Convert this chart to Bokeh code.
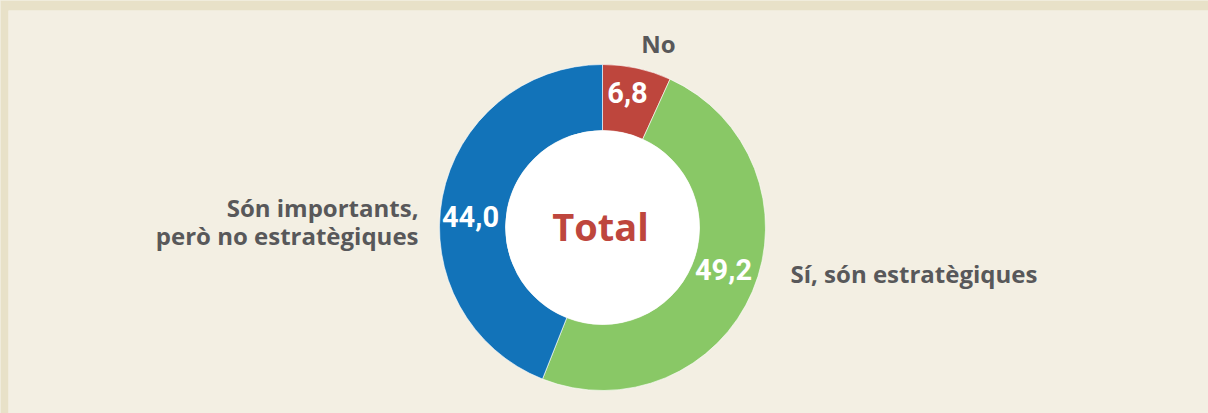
import math
from bokeh.plotting import figure
from bokeh.models import Range1d, ColumnDataSource
from bokeh.core.properties import value
from bokeh.embed import file_html
from bokeh.resources import INLINE

# ---- data ----
categories = ["No", "Sí, són estratègiques", "Són importants,\nperò no estratègiques"]
values = [6.8, 49.2, 44.0]
value_labels = ["6,8", "49,2", "44,0"]
colors = ["#be463d", "#89c866", "#1273b9"]
center_label = "Total"

# ---- geometry (screen px; y is negated) ----
CX, CY = 602, -227
R_OUT, R_IN = 163, 97

total = sum(values)
starts, ends = [], []
a = math.pi / 2
for v in values:
    starts.append(a)
    a = a - v / total * 2 * math.pi
    ends.append(a)

p = figure(width=1208, height=413, output_backend="svg", toolbar_location=None,
           x_range=Range1d(8, 1208), y_range=Range1d(-413, -10),
           min_border_left=8, min_border_right=0, min_border_bottom=0, min_border_top=10)
p.axis.visible = False
p.grid.visible = False
p.outline_line_color = None
p.background_fill_color = "#f3efe3"
p.border_fill_color = "#e8e1c8"

src = ColumnDataSource(dict(start=starts, end=ends, color=colors))
p.annular_wedge(x=CX, y=CY, inner_radius=R_IN, outer_radius=R_OUT,
                start_angle="start", end_angle="end", direction="clock",
                fill_color="color", line_color="white", line_width=0.6, source=src)
p.scatter(x=[CX], y=[CY], size=2 * R_IN, marker="circle",
          fill_color="white", line_color=None)

# value labels
vx = [627, 723, 470]
vy = [-92, -269, -216]
p.text(x=vx, y=vy, text=value_labels, text_color="white",
       text_font=value("Roboto"), text_font_style="bold", text_font_size="29px",
       text_align="center", text_baseline="alphabetic")

# category labels
gray = "#58585a"
p.text(x=[658], y=[-43], text=[categories[0]], text_color=gray,
       text_font=value("Open Sans"), text_font_style="bold", text_font_size="24px",
       text_align="center", text_baseline="alphabetic")
p.text(x=[790], y=[-273], text=[categories[1]], text_color=gray,
       text_font=value("Open Sans"), text_font_style="bold", text_font_size="24px",
       text_align="left", text_baseline="alphabetic")
lines = categories[2].split("\n")
p.text(x=[418, 418], y=[-207, -235], text=lines, text_color=gray,
       text_font=value("Open Sans"), text_font_style="bold", text_font_size="24px",
       text_align="right", text_baseline="alphabetic")

p.text(x=[600], y=[-225], text=[center_label], text_color="#be463d",
       text_font=value("Open Sans"), text_font_style="bold", text_font_size="38px",
       text_align="center", text_baseline="alphabetic")

html = file_html(p, INLINE)
html = html.replace("</head>", "<style>html,body{margin:0;padding:0;background:#f3efe3;overflow:hidden;}</style></head>", 1)
open("out.html", "w").write(html)
